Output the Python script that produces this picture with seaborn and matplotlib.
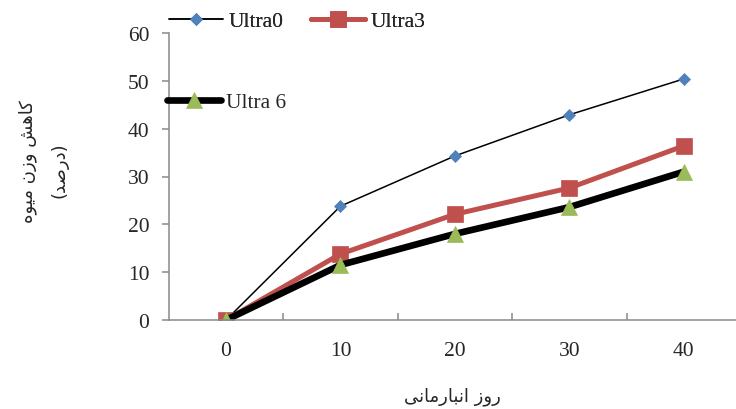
import pandas as pd
import matplotlib.pyplot as plt
import seaborn as sns
from matplotlib.ticker import FixedLocator

# data
days = ['0', '10', '20', '30', '40']
ultra0 = [0, 23.8, 34.3, 42.9, 50.4]
ultra3 = [0, 13.8, 22.1, 27.6, 36.4]
ultra6 = [0, 11.5, 18.0, 23.6, 31.0]

y_label_1 = 'کاهش وزن میوه'
y_label_2 = '(درصد)'
x_label = 'روز انبارمانی'

# matplotlib does no arabic shaping, so pick presentation forms by hand
# (isolated, final, initial, medial)
FORMS = {
    'ا': ('\uFE8D', '\uFE8E', None, None),
    'ب': ('\uFE8F', '\uFE90', '\uFE91', '\uFE92'),
    'د': ('\uFEA9', '\uFEAA', None, None),
    'ر': ('\uFEAD', '\uFEAE', None, None),
    'ز': ('\uFEAF', '\uFEB0', None, None),
    'ش': ('\uFEB5', '\uFEB6', '\uFEB7', '\uFEB8'),
    'ص': ('\uFEB9', '\uFEBA', '\uFEBB', '\uFEBC'),
    'م': ('\uFEE1', '\uFEE2', '\uFEE3', '\uFEE4'),
    'ن': ('\uFEE5', '\uFEE6', '\uFEE7', '\uFEE8'),
    'ه': ('\uFEE9', '\uFEEA', '\uFEEB', '\uFEEC'),
    'و': ('\uFEED', '\uFEEE', None, None),
    'ک': ('\uFB8E', '\uFB8F', '\uFB90', '\uFB91'),
    'ی': ('\uFBFC', '\uFBFD', '\uFBFE', '\uFBFF'),
}


def shape(text):
    out = []
    for i, ch in enumerate(text):
        if ch not in FORMS:
            out.append(ch)
            continue
        prev = text[i - 1] if i > 0 else ''
        nxt = text[i + 1] if i < len(text) - 1 else ''
        j_prev = prev in FORMS and FORMS[prev][2] is not None
        j_next = nxt in FORMS and FORMS[ch][2] is not None
        iso, fin, ini, med = FORMS[ch]
        if j_prev and j_next:
            out.append(med)
        elif j_prev:
            out.append(fin)
        elif j_next:
            out.append(ini)
        else:
            out.append(iso)
    vis = ''.join(reversed(out))
    return vis.translate(str.maketrans('()', ')('))


df = pd.DataFrame({
    'day': days * 3,
    'value': ultra0 + ultra3 + ultra6,
    'series': ['Ultra0'] * 5 + ['Ultra3'] * 5 + ['Ultra 6'] * 5,
})

sns.set_style('white')
plt.rcParams['font.family'] = ['Liberation Serif', 'DejaVu Sans']
FS = 15.5

fig = plt.figure(figsize=(7.36, 4.10), dpi=100)
ax = fig.add_axes([168.8 / 736, 1 - 321 / 410, (741 - 168.8) / 736, 287 / 410])

styles = {
    'Ultra0': dict(color='black', marker='D', markersize=6, linewidth=1.1,
                   mfc='#4F81BD', mec='#4F81BD', markeredgewidth=0.5),
    'Ultra3': dict(color='#C0504D', marker='s', markersize=11, linewidth=3.6,
                   mfc='#C0504D', mec='#C0504D', markeredgewidth=0.5),
    'Ultra 6': dict(color='black', marker='^', markersize=12, linewidth=4.8,
                    mfc='#9BBB59', mec='#9BBB59', markeredgewidth=0.5),
}

handles = {}
for name, st in styles.items():
    sub = df[df['series'] == name]
    kw = dict(st)
    color = kw.pop('color')
    marker = kw.pop('marker')
    sns.pointplot(data=sub, x='day', y='value', order=days, color=color,
                  markers=marker, errorbar=None, ax=ax, **kw)
    line = ax.lines[-1]
    line.set_markerfacecolor(st['mfc'])
    line.set_markeredgecolor(st['mec'])
    handles[name] = line

ax.set_ylim(0, 60)
ax.set_yticks(range(0, 61, 10))
ax.set_xlim(-0.5, 4.5)
ax.set_xlabel('')
ax.set_ylabel('')

for side in ['top', 'right']:
    ax.spines[side].set_visible(False)
for side in ['left', 'bottom']:
    ax.spines[side].set_color('#898989')
    ax.spines[side].set_linewidth(1.1)

ax.tick_params(axis='y', direction='out', length=5, width=1.1, color='#898989',
               pad=9, labelsize=FS, left=True)
ax.tick_params(axis='x', which='major', length=0, pad=15, labelsize=FS)
ax.xaxis.set_minor_locator(FixedLocator([0.5, 1.5, 2.5, 3.5]))
ax.tick_params(axis='x', which='minor', direction='in', length=5, width=1.1,
               color='#898989', bottom=True)

leg1 = fig.legend([handles['Ultra0'], handles['Ultra3']], ['Ultra0', 'Ultra3'],
                  loc='center left', bbox_to_anchor=(169 / 736, 1 - 22 / 410),
                  ncol=2, frameon=False, fontsize=FS, handlelength=2.5,
                  handletextpad=0.25, columnspacing=1.3, borderpad=0,
                  borderaxespad=0)
leg2 = fig.legend([handles['Ultra 6']], ['Ultra 6'],
                  loc='center left', bbox_to_anchor=(167 / 736, 1 - 103 / 410),
                  frameon=False, fontsize=FS, handlelength=2.5,
                  handletextpad=0.25, borderpad=0, borderaxespad=0)
fig.add_artist(leg1)

fig.text(28 / 736, 1 - 162 / 410, shape(y_label_1), rotation=90, ha='center',
         va='center', fontsize=13, family='DejaVu Sans')
fig.text(59 / 736, 1 - 170 / 410, shape(y_label_2), rotation=90, ha='center',
         va='center', fontsize=13, family='DejaVu Sans')
fig.text(452 / 736, 1 - 397 / 410, shape(x_label), ha='center', va='center',
         fontsize=13, family='DejaVu Sans')

plt.savefig('out.png', dpi=100)
